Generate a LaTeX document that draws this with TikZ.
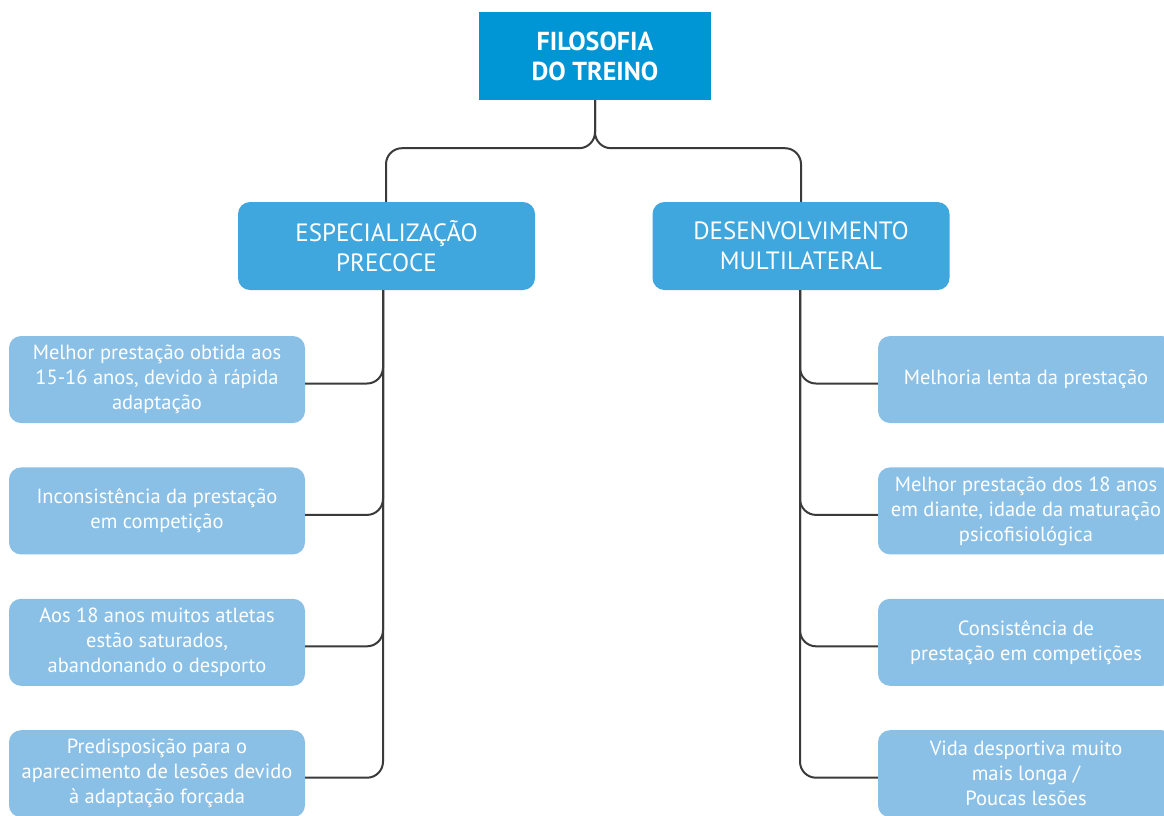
\documentclass[tikz,border=0pt]{standalone}
\usepackage{fontspec}
\setmainfont{PT Sans}
\usepackage{tikz}
\usetikzlibrary{positioning, calc}
\definecolor{topblue}{RGB}{0, 150, 214}
\definecolor{midblue}{RGB}{63, 167, 221}
\definecolor{leafblue}{RGB}{138, 191, 230}
\definecolor{lineg}{RGB}{58, 58, 58}
\tikzset{
    font=\fontsize{20.5}{25}\selectfont,
    title/.style={rectangle, fill=topblue, text=white, align=center, inner sep=0pt, minimum width=232pt, minimum height=88pt, font=\bfseries\fontsize{26}{30}\selectfont},
    branch/.style={rectangle, rounded corners=12pt, fill=midblue, text=white, align=center, inner sep=0pt, minimum width=297pt, minimum height=88pt, font=\fontsize{25}{30}\selectfont},
    leaf/.style={rectangle, rounded corners=12pt, fill=leafblue, text=white, align=center, inner sep=0pt, minimum width=296pt, minimum height=87pt},
    conn/.style={draw=lineg, line width=2pt, rounded corners=16pt}
}
\begin{document}
\begin{tikzpicture}[x=1pt, y=-1pt]

    \useasboundingbox (0,0) rectangle (1164,815);
    \clip (0,0) rectangle (1164,815);

    % Top
    \node (filosofia) [title] at (595,56) {FILOSOFIA\\DO TREINO};

    % Two branches
    \node (espec)  [branch] at (386.5,246) {ESPECIALIZAÇÃO\\PRECOCE};
    \node (desenv) [branch] at (801,246) {DESENVOLVIMENTO\\MULTILATERAL};

    % Left leaves
    \node (esp1) [leaf] at (157,379.5) {Melhor prestação obtida aos\\15-16 anos, devido à rápida\\adaptação};
    \node (esp2) [leaf, below=44pt of esp1] {Inconsistência da prestação\\em competição};
    \node (esp3) [leaf, below=44pt of esp2] {Aos 18 anos muitos atletas\\estão saturados,\\abandonando o desporto};
    \node (esp4) [leaf, below=44pt of esp3] {Predisposição para o\\aparecimento de lesões devido\\à adaptação forçada};

    % Right leaves
    \node (des1) [leaf] at (1026,379.5) {Melhoria lenta da prestação};
    \node (des2) [leaf, below=44pt of des1] {Melhor prestação dos 18 anos\\em diante, idade da maturação\\psicofisiológica};
    \node (des3) [leaf, below=44pt of des2] {Consistência de\\prestação em competições};
    \node (des4) [leaf, below=44pt of des3] {Vida desportiva muito\\mais longa /\\Poucas lesões};

    % Paths: top split
    \coordinate (split) at ($(filosofia.south)+(0,48)$);
    \draw [conn] (filosofia.south) |- ([xshift=-0.5pt]espec.north |- split) -- ([xshift=-0.5pt]espec.north);
    \draw [conn] (filosofia.south) |- (desenv.north |- split) -- (desenv.north);

    % Paths: left
    \foreach \i in {1,...,4}
        \draw [conn] ([xshift=-3.5pt]espec.south) |- ([yshift=-4pt]esp\i.east);

    % Paths: right
    \foreach \i in {1,...,4}
        \draw [conn] ([xshift=-1pt]desenv.south) |- ([yshift=-4pt]des\i.west);

\end{tikzpicture}
\end{document}
